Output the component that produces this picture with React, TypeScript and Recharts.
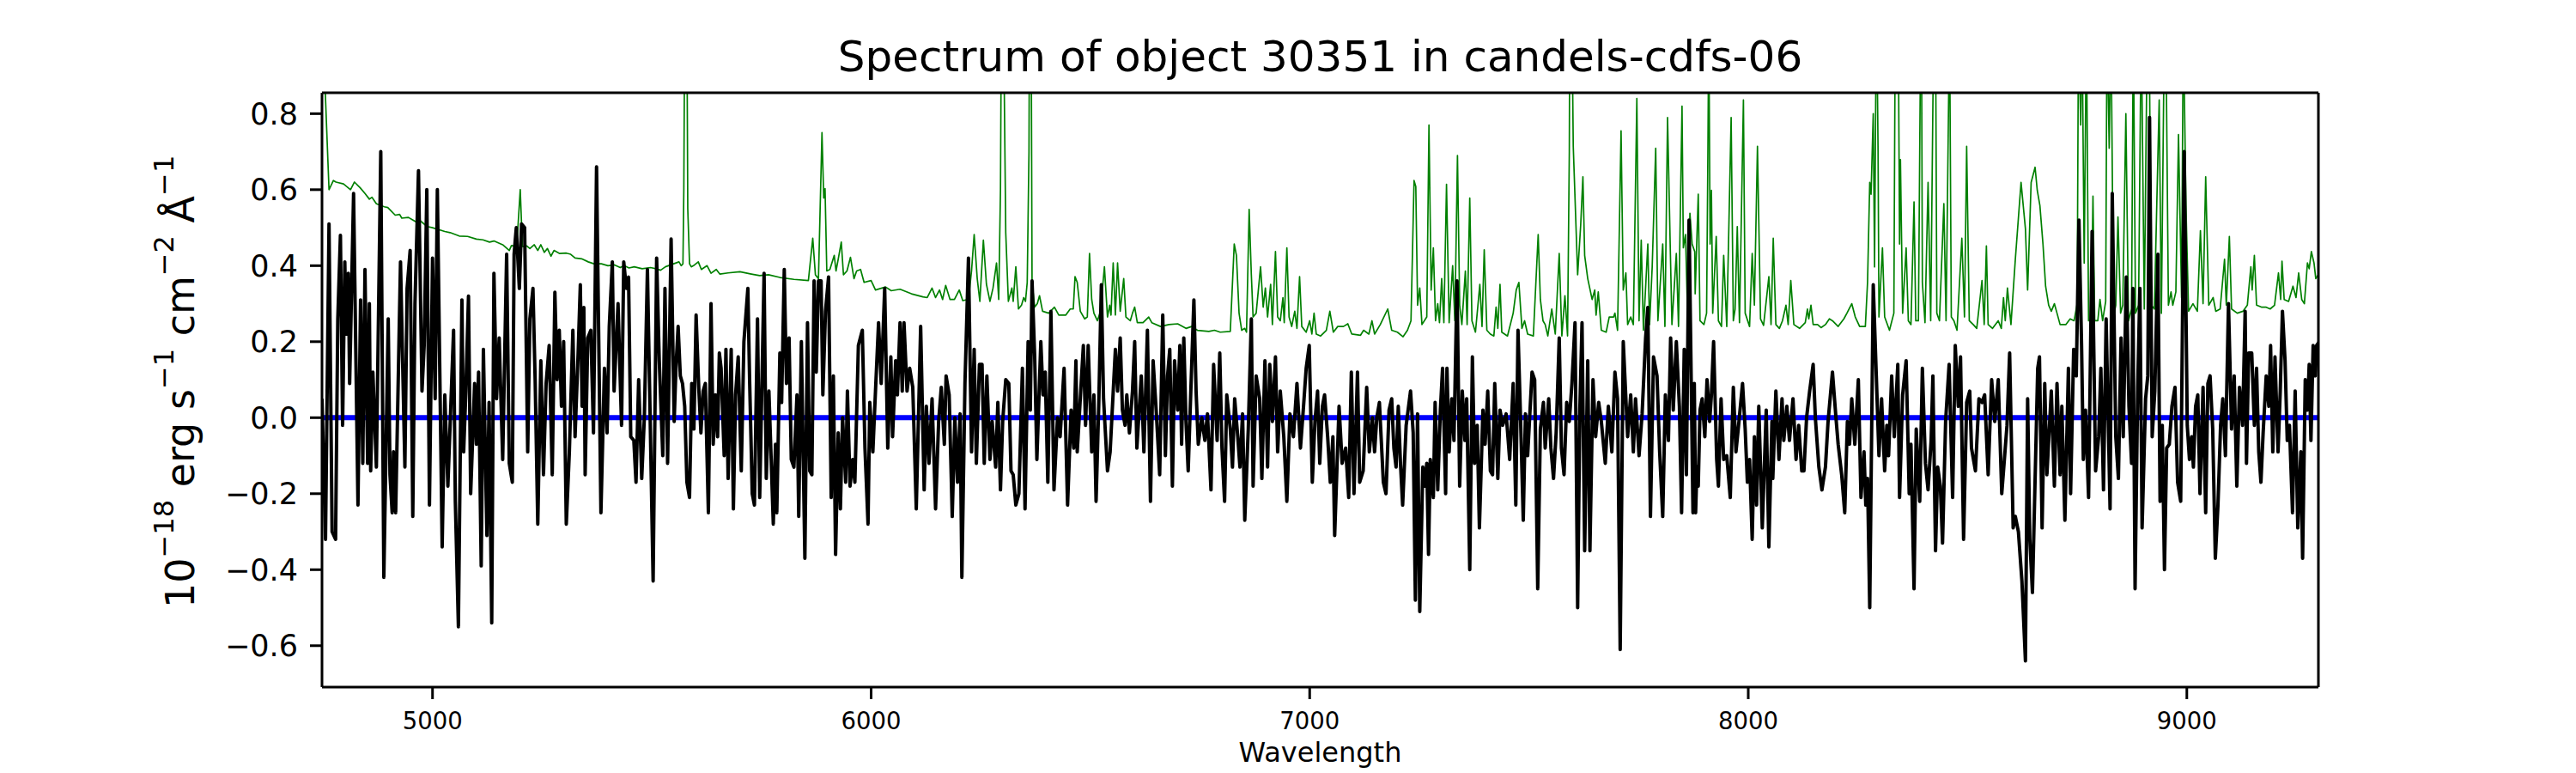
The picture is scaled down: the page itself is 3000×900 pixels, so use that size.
import { LineChart, Line, XAxis, YAxis } from 'recharts'

// observed flux, [wavelength (Å), 1e-18 erg/s/cm2/Å]
const flux: [number, number][] = [
  [4748,0.05],[4756,-0.32],[4764,0.51],[4771,-0.30],[4779,-0.32],[4784,0.26],[4790,0.48],[4795,-0.02],[4800,0.41],[4803,0.22],
  [4808,0.38],[4811,0.09],[4820,0.59],[4830,-0.23],[4836,0.31],[4841,-0.12],[4846,0.39],[4852,-0.12],[4856,0.30],[4859,-0.14],
  [4864,0.12],[4872,-0.13],[4882,0.70],[4889,-0.42],[4899,0.26],[4903,-0.15],[4908,-0.25],[4911,-0.09],[4916,-0.25],[4927,0.41],
  [4937,-0.13],[4942,0.34],[4949,0.44],[4955,-0.26],[4960,0.30],[4968,0.65],[4976,0.07],[4981,0.19],[4987,0.60],[4993,-0.23],
  [5000,0.42],[5006,0.05],[5011,0.60],[5022,-0.34],[5028,0.06],[5035,-0.18],[5048,0.23],[5052,-0.22],[5059,-0.55],[5067,0.31],
  [5071,-0.09],[5076,0.07],[5082,0.32],[5087,-0.20],[5096,0.09],[5100,-0.07],[5105,0.12],[5111,-0.39],[5116,0.18],[5124,-0.31],
  [5129,0.04],[5135,-0.54],[5140,0.38],[5146,0.05],[5152,0.21],[5160,-0.11],[5169,0.43],[5175,-0.12],[5182,-0.17],[5186,0.43],
  [5191,0.50],[5198,0.34],[5203,0.51],[5210,0.50],[5217,-0.09],[5222,0.26],[5229,0.34],[5234,0.10],[5240,-0.28],[5247,0.15],
  [5253,-0.15],[5259,0.09],[5266,0.19],[5273,-0.15],[5279,0.33],[5284,0.10],[5289,0.23],[5294,0.03],[5299,0.20],[5305,-0.28],
  [5312,-0.09],[5320,0.23],[5325,-0.05],[5332,0.17],[5337,0.35],[5341,0.03],[5345,0.29],[5348,-0.15],[5354,0.21],[5361,0.23],
  [5367,-0.04],[5374,0.66],[5384,-0.25],[5392,0.13],[5398,-0.04],[5403,0.24],[5410,0.41],[5414,0.07],[5423,0.30],[5431,-0.02],
  [5436,0.41],[5442,0.34],[5447,0.37],[5452,-0.05],[5459,-0.06],[5464,-0.17],[5470,0.10],[5477,-0.16],[5483,0.00],[5490,0.39],
  [5497,-0.05],[5503,-0.43],[5511,0.42],[5517,0.15],[5525,-0.10],[5530,0.34],
  [5536,-0.12],[5544,0.47],[5551,-0.01],[5555,0.13],[5560,0.24],[5565,0.11],[5570,0.09],[5575,0.03],[5580,-0.17],[5586,-0.21],
  [5591,0.09],[5596,-0.03],[5601,0.27],[5607,0.08],[5612,-0.04],[5617,0.07],[5622,0.09],[5629,-0.25],[5635,0.30],[5640,-0.07],
  [5645,0.06],[5650,-0.05],[5654,0.17],[5658,0.13],[5665,-0.10],[5669,0.18],[5674,-0.16],[5681,0.18],[5686,-0.24],[5691,0.06],
  [5697,0.16],[5704,-0.14],[5710,0.20],[5719,0.34],[5723,0.10],[5729,-0.20],[5734,-0.23],[5741,0.26],[5746,-0.21],[5756,0.38],
  [5761,-0.16],[5767,0.07],[5777,-0.28],[5782,-0.07],[5785,-0.25],[5792,0.17],[5796,0.04],[5802,0.39],[5807,0.09],[5813,0.21],
  [5818,-0.11],[5824,-0.13],[5831,0.06],[5835,-0.26],[5841,0.20],[5849,-0.37],[5855,0.25],[5860,-0.14],[5865,-0.15],[5870,0.36],
  [5875,0.12],[5880,0.36],[5886,0.36],[5890,0.06],[5896,0.28],[5903,0.37],[5909,-0.21],[5914,0.11],[5919,-0.36],[5925,-0.04],
  [5930,-0.24],[5935,0.00],[5942,-0.17],[5946,0.07],[5952,-0.18],[5958,-0.11],[5963,-0.17],[5971,0.19],[5980,0.23],[5986,-0.08],
  [5993,-0.28],[5997,0.04],[6004,-0.09],[6010,0.07],[6017,0.25],[6023,0.09],[6031,0.34],[6038,-0.08],[6045,0.16],[6049,-0.05],
  [6056,0.15],[6060,0.06],[6066,0.25],[6071,0.07],[6075,0.25],[6082,0.07],[6088,0.13],[6095,0.08],[6103,-0.24],[6113,0.24],
  [6121,-0.19],[6126,0.03],[6132,-0.12],[6139,0.05],[6147,-0.24],[6154,-0.01],[6160,0.08],[6167,-0.07],[6171,0.11],[6178,0.06],
  [6185,-0.26],[6191,0.00],[6197,-0.17],[6203,0.01],[6207,-0.42],[6214,0.09],[6222,0.42],[6229,-0.09],[6235,0.18],[6240,-0.12],
  [6247,0.14],[6253,0.14],[6258,-0.12],[6264,0.11],[6271,-0.11],[6276,-0.01],[6284,-0.13],[6289,0.04],[6295,-0.19],[6300,-0.01],
  [6307,0.10],
  [6314,0.09],[6319,-0.14],[6324,-0.15],[6330,-0.23],[6337,-0.20],[6345,0.13],[6351,-0.24],[6358,0.20],[6363,0.02],[6367,0.36],
  [6373,0.16],[6378,-0.11],[6387,0.20],[6392,0.06],[6397,0.12],[6403,-0.17],[6410,0.28],[6417,-0.19],[6425,0.00],[6431,-0.05],
  [6440,0.13],[6448,-0.23],[6456,0.02],[6462,-0.08],[6467,0.15],[6470,-0.09],[6477,0.05],[6484,0.19],[6489,-0.02],[6495,0.19],
  [6503,-0.09],[6508,0.06],[6513,-0.22],[6519,0.03],[6525,0.35],[6530,0.05],[6539,-0.14],[6545,-0.09],[6557,0.18],[6562,0.07],
  [6568,0.21],[6573,0.02],[6579,-0.02],[6583,0.06],[6589,-0.04],[6596,0.07],[6601,0.20],[6606,-0.08],[6616,0.11],[6622,-0.09],
  [6630,0.23],[6637,-0.22],[6643,0.15],[6650,0.02],[6658,-0.15],[6665,0.27],[6671,-0.10],[6676,0.11],[6681,0.18],[6687,-0.18],
  [6692,0.15],[6699,0.02],[6704,0.19],[6708,-0.07],[6713,0.21],[6718,-0.01],[6723,-0.14],[6729,0.07],[6736,0.31],[6741,0.07],
  [6746,-0.07],[6754,0.00],[6761,-0.06],[6767,0.01],[6775,-0.19],[6781,0.14],[6789,-0.06],[6795,0.17],[6800,-0.08],[6806,-0.22],
  [6811,0.06],[6819,-0.03],[6824,-0.13],[6829,0.05],[6836,-0.05],[6841,-0.13],[6847,0.01],[6852,-0.27],[6860,-0.03],[6867,0.26],
  [6871,-0.18],[6878,0.11],[6886,0.05],[6891,-0.16],[6898,0.15],[6904,-0.13],[6909,0.14],[6915,-0.01],[6922,0.16],[6927,-0.09],
  [6933,0.07],[6941,-0.05],[6948,-0.22],[6955,0.01],[6963,-0.05],[6971,0.09],[6979,-0.08],[6986,0.03],[6992,0.13],[6999,0.19],
  [7006,-0.17],[7012,-0.01],[7018,0.07],[7023,-0.12],[7029,0.03],[7034,0.06],[7041,-0.05],[7047,-0.17],[7053,-0.05],[7057,-0.31],
  [7067,0.03],[7074,-0.12],[7082,-0.08],[7089,-0.21],[7095,0.12],
  [7101,-0.20],[7109,0.12],[7114,-0.17],[7122,-0.14],[7130,0.08],[7136,-0.09],[7143,0.00],[7148,-0.09],[7153,0.00],[7159,0.04],
  [7168,-0.17],[7174,-0.20],[7181,0.02],[7187,0.05],[7192,-0.08],[7197,-0.13],[7202,0.03],[7207,-0.12],[7212,-0.23],[7220,-0.02],
  [7230,0.07],[7236,-0.04],[7241,-0.48],[7246,0.01],[7251,-0.51],[7258,-0.13],[7262,-0.18],[7267,-0.12],[7271,-0.36],[7275,-0.11],
  [7282,-0.21],[7286,0.04],[7292,-0.19],[7298,0.02],[7303,0.13],[7310,-0.20],[7313,0.13],[7318,-0.09],[7324,0.05],[7329,-0.06],
  [7336,0.36],[7342,-0.18],[7348,0.07],[7354,-0.06],[7358,0.05],[7365,-0.40],[7371,0.16],[7376,-0.12],[7382,-0.02],[7387,-0.29],
  [7395,0.02],[7400,-0.07],[7406,0.07],[7412,-0.14],[7417,-0.15],[7422,0.09],[7429,-0.16],[7434,0.02],[7440,-0.02],[7448,0.01],
  [7456,-0.11],[7464,0.09],[7470,-0.23],[7475,0.23],[7481,-0.01],[7487,-0.27],[7492,0.01],[7497,-0.10],[7507,0.12],[7513,0.10],
  [7520,-0.45],[7526,-0.03],[7533,0.04],[7537,-0.08],[7545,0.05],[7550,-0.08],[7556,-0.16],[7562,-0.04],[7569,0.21],[7574,-0.08],
  [7580,-0.15],[7586,0.04],[7592,-0.01],[7598,0.09],[7605,0.25],[7611,-0.50],[7616,0.02],[7621,0.25],[7627,-0.35],[7634,0.15],
  [7639,-0.35],[7646,0.10],[7652,-0.05],[7659,0.04],[7665,-0.01],[7674,-0.12],[7681,0.03],[7689,-0.09],[7696,0.12],[7702,0.05],
  [7708,-0.61],[7715,0.20],[7725,-0.05],[7732,0.06],[7738,-0.09],[7743,0.05],[7751,-0.10],[7758,0.01],[7766,0.21],[7771,0.29],
  [7777,-0.26],[7784,0.16],[7792,0.11],[7798,-0.09],[7805,-0.26],[7811,0.06],[7818,-0.06],[7823,0.21],[7829,0.02],[7836,0.20],
  [7843,0.03],[7848,-0.25],[7854,0.18],[7859,-0.15],[7865,0.52],[7874,-0.25],[7877,0.09],
  [7880,-0.25],[7883,-0.13],[7886,-0.18],[7890,0.02],[7895,0.05],[7901,-0.05],[7906,0.10],[7912,-0.01],[7916,0.06],[7921,0.20],
  [7928,-0.11],[7932,-0.18],[7938,0.05],[7944,-0.11],[7951,-0.10],[7959,-0.21],[7966,0.08],[7972,-0.09],[7978,-0.02],[7987,0.09],
  [7993,-0.03],[7998,-0.17],[8003,-0.11],[8009,-0.32],[8014,-0.05],[8019,-0.23],[8024,0.03],[8032,-0.29],[8041,0.02],[8047,-0.34],
  [8054,-0.01],[8056,-0.16],[8063,0.07],[8070,-0.11],[8077,0.05],[8081,-0.06],[8088,0.03],[8094,-0.06],[8102,0.05],[8109,-0.11],
  [8115,-0.02],[8122,-0.14],[8127,-0.14],[8133,0.00],[8140,0.07],[8148,0.14],[8153,0.00],[8161,-0.13],[8168,-0.19],[8176,-0.13],
  [8182,-0.01],[8192,0.12],[8200,0.00],[8205,-0.07],[8213,-0.15],[8220,-0.25],[8226,-0.01],[8231,-0.07],[8236,0.05],[8243,-0.07],
  [8251,0.10],[8257,-0.21],[8264,-0.09],[8268,-0.23],[8272,-0.16],[8277,-0.50],[8285,0.35],[8292,0.11],[8298,-0.10],[8304,0.05],
  [8311,-0.14],[8316,-0.02],[8320,-0.10],[8327,0.11],[8333,-0.05],[8341,0.14],[8345,-0.21],[8352,0.06],[8360,0.15],[8367,-0.20],
  [8371,-0.07],[8378,-0.45],[8383,-0.03],[8391,-0.22],[8397,0.13],[8404,-0.12],[8410,-0.19],[8417,-0.06],[8421,0.11],[8427,-0.35],
  [8432,-0.13],[8438,-0.18],[8443,-0.33],[8450,-0.01],[8458,0.14],[8466,-0.21],[8472,0.19],[8479,0.03],[8484,0.16],[8491,-0.32],
  [8498,0.04],[8505,0.07],[8509,-0.08],[8518,-0.14],[8526,0.05],[8533,0.04],[8539,0.06],[8547,-0.15],[8555,0.10],[8562,-0.01],
  [8570,0.10],[8578,-0.20],[8590,-0.02],[8596,0.17],[8604,-0.29],[8609,-0.26],[8616,-0.30],[8624,-0.43],[8632,-0.64],[8637,0.05],
  [8642,-0.32],[8648,-0.46],
  [8660,0.13],[8664,0.16],[8670,-0.29],[8676,0.09],[8681,-0.15],[8691,0.07],[8698,-0.18],[8704,0.09],[8711,-0.15],[8715,0.03],
  [8722,-0.27],[8730,0.13],[8735,-0.20],[8742,0.18],[8748,0.11],[8754,0.52],[8760,0.19],[8764,-0.11],[8769,0.02],[8776,-0.21],
  [8784,0.49],[8790,0.01],[8792,-0.14],[8799,-0.05],[8804,0.13],[8810,-0.19],[8816,0.26],[8825,-0.24],[8830,0.59],[8838,-0.05],
  [8844,-0.16],[8850,0.21],[8855,-0.05],[8862,0.37],[8868,0.03],[8874,-0.12],[8877,0.34],[8882,-0.45],[8888,0.08],[8893,0.34],
  [8898,-0.29],[8906,0.05],[8911,0.11],[8915,0.79],[8921,-0.05],[8927,0.07],[8934,0.43],[8939,-0.22],[8944,-0.02],[8949,-0.40],
  [8954,-0.08],[8960,-0.07],[8966,0.03],[8973,0.08],[8979,-0.17],[8986,-0.22],[8994,0.70],[9001,-0.02],[9006,-0.11],[9011,-0.05],
  [9015,-0.13],[9020,0.03],[9025,0.06],[9030,-0.20],[9037,0.08],[9043,-0.25],[9048,0.09],[9053,0.11],[9059,-0.03],[9065,-0.37],
  [9071,-0.23],[9077,-0.02],[9082,0.05],[9088,-0.10],[9095,0.30],[9102,-0.03],[9108,0.11],[9114,-0.18],[9120,0.08],[9127,-0.02],
  [9133,0.28],[9136,-0.12],[9141,0.17],[9148,0.17],[9154,-0.02],[9159,0.13],[9164,-0.09],[9169,-0.17],[9174,-0.04],[9181,0.11],
  [9187,0.03],[9191,0.19],[9196,-0.09],[9201,0.16],[9208,-0.09],[9213,0.07],[9218,0.28],[9224,0.15],[9229,-0.06],[9234,-0.02],
  [9241,-0.25],[9247,0.07],[9253,-0.29],[9260,-0.09],[9264,-0.37],[9270,0.10],[9275,0.02],[9279,0.14],[9283,-0.06],[9288,0.19],
  [9293,0.11],[9296,0.19],[9302,0.20],
]

// noise spectrum (values above ~0.86 run off the top of the frame)
const noise: [number, number][] = [
  [4748,0.95],[4754,0.90],[4764,0.60],[4774,0.624],[4780,0.62],[4797,0.615],[4813,0.60],[4822,0.62],[4835,0.605],[4846,0.59],
  [4856,0.575],[4862,0.58],[4872,0.563],[4890,0.555],[4898,0.553],[4915,0.533],[4925,0.535],[4930,0.525],[4945,0.527],[4963,0.515],
  [4970,0.52],[4988,0.503],[5000,0.50],[5028,0.49],[5040,0.487],[5061,0.478],[5080,0.477],[5100,0.47],[5115,0.468],[5130,0.462],
  [5140,0.465],[5160,0.455],[5175,0.44],[5180,0.453],[5192,0.45],[5200,0.60],[5205,0.45],[5215,0.452],[5222,0.445],[5232,0.455],
  [5240,0.44],[5247,0.455],[5255,0.435],[5262,0.445],[5270,0.425],[5277,0.44],[5290,0.432],[5305,0.433],[5315,0.43],[5325,0.42],
  [5340,0.418],[5355,0.41],[5368,0.405],[5385,0.405],[5400,0.40],[5415,0.402],[5428,0.395],[5437,0.40],[5448,0.394],[5460,0.397],
  [5478,0.392],[5497,0.395],[5510,0.392],[5520,0.388],[5531,0.397],[5562,0.41],[5567,0.40],[5571,0.405],[5573,0.60],[5575,1.05],
  [5580,1.05],[5582,0.55],[5586,0.405],[5590,0.397],[5595,0.40],[5606,0.41],[5613,0.39],[5626,0.40],[5635,0.38],[5647,0.39],
  [5655,0.378],[5674,0.381],[5701,0.384],[5727,0.378],[5746,0.374],[5766,0.376],[5792,0.369],[5824,0.364],[5857,0.361],[5867,0.472],
  [5873,0.376],[5880,0.366],[5888,0.75],[5892,0.578],[5895,0.603],[5899,0.386],[5906,0.39],[5916,0.427],[5920,0.386],[5925,0.417],
  [5932,0.462],[5937,0.376],[5945,0.386],[5953,0.422],[5961,0.366],[5967,0.386],[5976,0.39],[5984,0.356],[6000,0.361],[6010,0.336],
  [6033,0.344],[6046,0.334],[6066,0.338],[6092,0.326],[6118,0.318],[6128,0.316],[6139,0.341],[6147,0.316],[6156,0.336],[6163,0.311],
  [6170,0.348],[6180,0.311],[6190,0.311],[6201,0.336],[6209,0.308],[6222,0.311],[6229,0.386],[6235,0.482],[6242,0.366],[6248,0.306],
  [6256,0.467],[6263,0.351],[6271,0.306],[6278,0.341],[6286,0.407],[6291,0.311],[6295,0.60],[6297,1.05],[6302,1.05],[6307,0.487],
  [6313,0.306],[6321,0.341],[6324,0.306],[6330,0.397],[6336,0.286],[6343,0.296],[6348,0.316],[6352,0.306],[6356,0.356],[6360,0.70],
  [6361,1.05],[6365,1.05],[6367,0.356],[6373,0.291],[6379,0.30],[6384,0.321],[6391,0.28],[6405,0.275],[6418,0.291],[6428,0.27],
  [6444,0.27],[6454,0.286],[6461,0.286],[6465,0.371],[6470,0.356],[6477,0.28],[6487,0.26],[6493,0.265],[6498,0.432],[6503,0.311],
  [6508,0.275],[6516,0.255],[6523,0.28],[6532,0.397],[6539,0.265],[6544,0.296],[6547,0.27],[6552,0.407],[6557,0.27],[6562,0.407],
  [6568,0.28],[6576,0.366],[6581,0.265],[6591,0.255],[6596,0.275],[6601,0.291],[6607,0.25],[6620,0.25],[6633,0.265],[6640,0.25],
  [6660,0.24],[6679,0.245],[6699,0.247],[6718,0.235],[6731,0.24],[6744,0.23],[6770,0.227],[6783,0.23],[6796,0.225],[6819,0.227],
  [6828,0.457],[6833,0.427],[6839,0.275],[6845,0.23],[6852,0.235],[6856,0.225],[6862,0.548],[6867,0.376],[6871,0.265],[6878,0.275],
  [6888,0.397],[6894,0.291],[6899,0.341],[6904,0.265],[6911,0.351],[6915,0.245],[6922,0.437],[6927,0.265],[6933,0.255],[6939,0.316],
  [6942,0.25],[6948,0.447],[6953,0.265],[6959,0.24],[6966,0.28],[6971,0.235],[6977,0.371],[6982,0.24],[6992,0.225],[7000,0.255],
  [7005,0.22],[7010,0.275],[7015,0.22],[7025,0.215],[7038,0.23],[7046,0.28],[7054,0.225],[7064,0.24],[7077,0.24],[7087,0.247],
  [7096,0.22],[7116,0.217],[7123,0.23],[7135,0.22],[7142,0.255],[7148,0.22],[7161,0.245],[7178,0.286],[7187,0.23],[7200,0.225],
  [7213,0.213],[7223,0.23],[7231,0.255],[7238,0.624],[7242,0.608],[7246,0.296],[7251,0.341],[7256,0.245],[7267,0.265],[7272,0.77],
  [7277,0.336],[7282,0.447],[7287,0.255],[7292,0.30],[7296,0.25],[7301,0.366],[7306,0.25],[7312,0.614],[7318,0.25],[7326,0.40],
  [7331,0.255],[7337,0.69],[7342,0.296],[7347,0.245],[7355,0.386],[7359,0.245],[7365,0.578],[7370,0.255],[7378,0.225],[7388,0.351],
  [7393,0.24],[7398,0.442],[7404,0.23],[7412,0.22],[7420,0.215],[7425,0.291],[7429,0.235],[7434,0.351],[7438,0.225],[7451,0.215],
  [7464,0.275],[7471,0.336],[7477,0.356],[7484,0.235],[7490,0.255],[7497,0.22],[7510,0.215],[7521,0.482],[7526,0.311],[7532,0.255],
  [7537,0.245],[7543,0.215],[7552,0.286],[7560,0.22],[7569,0.432],[7575,0.215],[7582,0.321],[7588,0.215],[7592,0.70],[7593,1.05],
  [7598,1.05],[7601,0.714],[7611,0.376],[7618,0.508],[7623,0.634],[7627,0.427],[7634,0.366],[7644,0.311],[7650,0.336],[7653,0.27],
  [7658,0.331],[7665,0.23],[7676,0.225],[7683,0.265],[7693,0.265],[7696,0.275],[7702,0.23],[7710,0.755],[7715,0.336],[7721,0.381],
  [7725,0.245],[7732,0.265],[7738,0.245],[7746,0.84],[7751,0.255],[7756,0.467],[7761,0.23],[7771,0.457],[7775,0.245],[7781,0.397],
  [7789,0.709],[7794,0.255],[7805,0.457],[7810,0.24],[7816,0.79],[7822,0.457],[7826,0.245],[7836,0.432],[7841,0.24],[7849,0.82],
  [7852,0.447],[7857,0.482],[7862,0.255],[7867,0.538],[7872,0.457],[7878,0.437],[7879,0.326],[7886,0.588],[7890,0.255],[7899,0.245],
  [7905,0.275],[7908,0.70],[7910,1.05],[7913,0.457],[7916,0.598],[7919,0.275],[7927,0.477],[7932,0.255],[7939,0.24],[7944,0.427],
  [7951,0.24],[7961,0.79],[7966,0.255],[7970,0.286],[7975,0.503],[7980,0.25],[7989,0.836],[7993,0.275],[8003,0.24],[8009,0.432],
  [8014,0.296],[8021,0.714],[8028,0.26],[8035,0.243],[8047,0.371],[8052,0.245],[8057,0.472],[8063,0.245],[8071,0.235],[8078,0.255],
  [8086,0.296],[8091,0.245],[8097,0.361],[8104,0.245],[8117,0.235],[8130,0.25],[8135,0.286],[8138,0.26],[8143,0.296],[8148,0.245],
  [8158,0.245],[8166,0.237],[8176,0.245],[8185,0.26],[8192,0.255],[8205,0.24],[8218,0.26],[8225,0.275],[8236,0.30],[8244,0.265],
  [8254,0.24],[8267,0.24],[8272,0.356],[8277,0.619],[8280,0.588],[8285,0.80],[8288,0.397],[8291,0.90],[8293,1.05],[8296,0.70],
  [8298,0.265],[8306,0.447],[8311,0.265],[8322,0.23],[8332,0.275],[8335,1.0],[8337,1.05],[8342,1.05],[8345,0.457],[8347,0.679],
  [8352,0.275],[8360,0.447],[8365,0.255],[8371,0.245],[8378,0.568],[8382,0.255],[8388,0.255],[8393,1.0],[8395,1.05],[8397,0.356],
  [8403,0.25],[8410,0.619],[8416,0.255],[8423,1.05],[8427,1.05],[8430,0.275],[8436,0.255],[8446,0.563],[8451,0.255],[8459,1.05],
  [8463,0.265],[8469,0.255],[8476,0.23],[8487,0.472],[8493,0.265],[8498,0.714],[8504,0.255],[8513,0.245],[8521,0.235],[8533,0.361],
  [8538,0.245],[8543,0.452],[8547,0.245],[8557,0.235],[8570,0.255],[8577,0.235],[8582,0.316],[8586,0.255],[8591,0.341],[8599,0.245],
  [8609,0.417],[8622,0.619],[8632,0.497],[8637,0.336],[8645,0.619],[8654,0.659],[8659,0.598],[8665,0.558],[8672,0.457],[8678,0.346],
  [8685,0.296],[8691,0.28],[8698,0.30],[8704,0.275],[8711,0.245],[8724,0.245],[8734,0.26],[8743,0.255],[8750,0.30],[8753,1.05],
  [8758,0.77],[8761,1.05],[8766,0.407],[8771,1.05],[8776,0.255],[8782,0.255],[8786,0.583],[8790,0.255],[8797,0.255],[8802,0.311],
  [8808,0.255],[8815,0.306],[8818,1.05],[8823,0.709],[8827,1.05],[8833,0.265],[8838,0.296],[8843,0.528],[8849,0.275],[8854,0.296],
  [8861,0.80],[8867,0.255],[8874,0.286],[8878,1.05],[8883,0.275],[8890,0.296],[8896,1.05],[8903,0.286],[8910,1.05],[8914,1.05],
  [8919,0.296],[8926,0.286],[8937,0.836],[8942,0.275],[8949,1.05],[8952,1.05],[8958,0.296],[8964,0.331],[8968,0.296],[8975,0.331],
  [8981,0.745],[8988,0.316],[8992,1.05],[8998,0.558],[9004,0.28],[9014,0.30],[9024,0.28],[9031,0.492],[9037,0.30],[9043,0.634],
  [9050,0.296],[9060,0.316],[9066,0.28],[9076,0.286],[9086,0.417],[9090,0.296],[9097,0.477],[9102,0.286],[9115,0.275],[9128,0.28],
  [9138,0.296],[9146,0.397],[9149,0.336],[9154,0.427],[9159,0.296],[9170,0.291],[9180,0.291],[9190,0.286],[9200,0.296],[9209,0.381],
  [9214,0.311],[9217,0.412],[9222,0.311],[9232,0.306],[9242,0.346],[9249,0.316],[9255,0.381],[9262,0.311],[9268,0.30],[9275,0.407],
  [9279,0.392],[9284,0.437],[9290,0.407],[9294,0.366],[9302,0.38],
]

// continuum model
const model: [number, number][] = [[4748, 0], [9302, 0]]

const xTicks = [5000, 6000, 7000, 8000, 9000]
const yTicks = [-0.6, -0.4, -0.2, 0, 0.2, 0.4, 0.6, 0.8]
const xDomain = [4748, 9300]
const yDomain = [-0.709, 0.855]

const title = 'Spectrum of object 30351 in candels-cdfs-06'
const xLabel = 'Wavelength'

const FONT = '"DejaVu Sans", sans-serif'

const toRows = (pts: [number, number][]) => pts.map(([w, v]) => ({ w, v }))

const fmtY = (v: number) => (v < 0 ? '\u2212' : '') + Math.abs(v).toFixed(1)

export default function App() {
  const spine = { stroke: '#000', strokeWidth: 3 }
  return (
    <div style={{ position: 'relative', width: 3000, height: 900, background: '#fff', fontFamily: FONT }}>
      <style>{'body{margin:0}'}</style>
      <LineChart width={3000} height={900} margin={{ top: 107, right: 299, bottom: 40, left: 295 }}>
        <XAxis
          type="number"
          dataKey="w"
          domain={xDomain}
          allowDataOverflow
          ticks={xTicks}
          interval={0}
          height={60}
          tickSize={14}
          tickMargin={15}
          axisLine={spine}
          tickLine={spine}
          tick={{ fontSize: 27.5, fill: '#000', fontFamily: FONT }}
        />
        {/* top / right spines, carried by the model line */}
        <XAxis
          xAxisId="top"
          orientation="top"
          type="number"
          dataKey="w"
          domain={xDomain}
          allowDataOverflow
          height={1}
          tick={false}
          tickLine={false}
          axisLine={spine}
        />
        <YAxis
          type="number"
          domain={yDomain}
          allowDataOverflow
          ticks={yTicks}
          interval={0}
          width={80}
          tickSize={14}
          tickMargin={14}
          tickFormatter={fmtY}
          axisLine={spine}
          tickLine={spine}
          tick={{ fontSize: 35, fill: '#000', fontFamily: FONT }}
        />
        <YAxis
          yAxisId="right"
          orientation="right"
          type="number"
          domain={yDomain}
          allowDataOverflow
          width={1}
          tick={false}
          tickLine={false}
          axisLine={spine}
        />
        <Line
          data={toRows(noise)}
          dataKey="v"
          type="linear"
          stroke="#008000"
          strokeWidth={1.7}
          strokeLinejoin="round"
          dot={false}
          isAnimationActive={false}
        />
        <Line
          data={toRows(model)}
          xAxisId="top"
          yAxisId="right"
          dataKey="v"
          type="linear"
          stroke="#0000ff"
          strokeWidth={6}
          dot={false}
          isAnimationActive={false}
        />
        <Line
          data={toRows(flux)}
          dataKey="v"
          type="linear"
          stroke="#000"
          strokeWidth={4}
          strokeLinejoin="round"
          dot={false}
          isAnimationActive={false}
        />
      </LineChart>
      <svg width={3000} height={900} style={{ position: 'absolute', left: 0, top: 0, pointerEvents: 'none' }}>
        <text x={1537.5} y={83} textAnchor="middle" fontSize={50} fontFamily={FONT} fill="#000">
          {title}
        </text>
        <text x={1537.5} y={887} textAnchor="middle" fontSize={32} fontFamily={FONT} fill="#000">
          {xLabel}
        </text>
        <text transform="translate(226,708) rotate(-90)" fontSize={46} fontFamily={FONT} fill="#000" style={{ whiteSpace: 'pre' }}>
          <tspan>10</tspan>
          <tspan dy={-24} fontSize={32}>{'\u221218'}</tspan>
          <tspan dy={24}>{' erg s'}</tspan>
          <tspan dy={-24} fontSize={32}>{'\u22121'}</tspan>
          <tspan dy={24}>{' cm'}</tspan>
          <tspan dy={-24} fontSize={32}>{'\u22122'}</tspan>
          <tspan dy={24}>{' \u00c5'}</tspan>
          <tspan dy={-24} fontSize={32}>{'\u22121'}</tspan>
        </text>
      </svg>
    </div>
  )
}
